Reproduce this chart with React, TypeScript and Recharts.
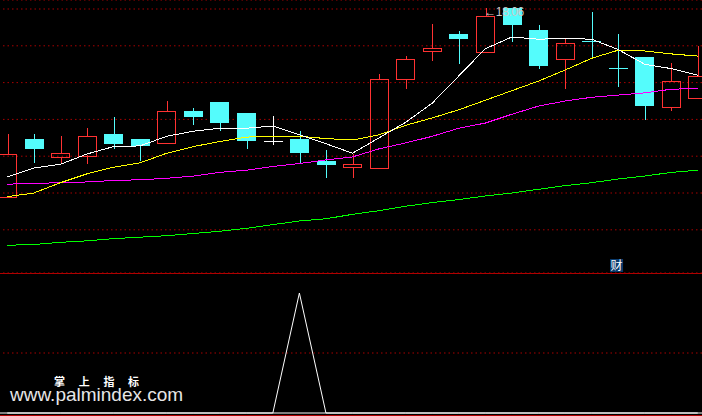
import { Bar, CartesianGrid, ComposedChart, Line, ReferenceDot, ReferenceLine, XAxis, YAxis } from 'recharts';

// daily candles, oldest first
const OPEN = [15.49, 16.27, 16.02, 16.05, 16.34, 16.27, 16.21, 16.65, 16.78, 16.63, 16.25, 16.27, 15.98, 15.89, 15.88, 17.09, 17.47, 17.7, 17.46, 18.05, 17.76, 17.36, 17.6, 17.24, 17.39, 16.7, 16.83];
const HIGH = [16.34, 16.34, 16.32, 16.42, 16.57, 16.27, 16.79, 16.7, 16.78, 16.63, 16.59, 16.38, 16.12, 16.07, 17.16, 17.4, 17.84, 17.74, 18.06, 18.05, 17.82, 17.63, 18.0, 17.7, 17.39, 17.31, 17.54];
const LOW = [15.49, 15.95, 15.93, 15.93, 16.14, 15.97, 16.21, 16.46, 16.38, 16.14, 16.19, 15.95, 15.74, 15.74, 15.88, 16.95, 17.33, 17.29, 17.44, 17.59, 17.23, 16.95, 17.37, 16.98, 16.53, 16.65, 16.83];
const CLOSE = [16.07, 16.14, 16.08, 16.32, 16.21, 16.18, 16.65, 16.57, 16.5, 16.25, 16.25, 16.08, 15.93, 15.93, 17.09, 17.36, 17.51, 17.63, 17.95, 17.82, 17.27, 17.58, 17.59, 17.23, 16.72, 17.06, 17.13];

const MA_WHITE = [15.76, 15.88, 15.93, 16.07, 16.17, 16.18, 16.31, 16.38, 16.42, 16.42, 16.45, 16.33, 16.21, 16.08, 16.29, 16.5, 16.76, 17.13, 17.5, 17.66, 17.63, 17.64, 17.63, 17.49, 17.29, 17.23, 17.14];
const MA_YELLOW = [15.49, 15.54, 15.68, 15.8, 15.89, 15.95, 16.08, 16.17, 16.24, 16.3, 16.31, 16.31, 16.28, 16.26, 16.33, 16.46, 16.56, 16.67, 16.8, 16.93, 17.06, 17.21, 17.37, 17.48, 17.47, 17.43, 17.4];
const MA_MAGENTA = [15.66, 15.67, 15.68, 15.69, 15.71, 15.72, 15.74, 15.77, 15.82, 15.85, 15.9, 15.94, 15.99, 16.03, 16.14, 16.22, 16.31, 16.42, 16.49, 16.61, 16.72, 16.79, 16.84, 16.87, 16.9, 16.95, 16.96];
const MA_GREEN = [14.83, 14.84, 14.87, 14.89, 14.92, 14.94, 14.96, 14.99, 15.02, 15.06, 15.11, 15.16, 15.19, 15.25, 15.3, 15.36, 15.41, 15.45, 15.5, 15.54, 15.59, 15.64, 15.68, 15.73, 15.77, 15.82, 15.85];

// lower panel signal
const SIGNAL = [0, 0, 0, 0, 0, 0, 0, 0, 0, 0, 0, 100, 0, 0, 0, 0, 0, 0, 0, 0, 0, 0, 0, 0, 0, 0, 0];

const PRICE_LEVELS = [15.04, 15.54, 16.04, 16.54, 17.04, 17.54, 18.04];
const SIGNAL_LEVELS = [50];
const HIGH_MARK = { idx: 18, value: 18.06 };
const CAI_MARK = { idx: 23, value: 14.562 };

const UP = '#ff3232';
const DOWN = '#54fcfc';
const FLAT = '#ffffff';
const GRID = '#a80000';

const data = OPEN.map((open, i) => ({
  idx: i,
  open,
  high: HIGH[i],
  low: LOW[i],
  close: CLOSE[i],
  w: MA_WHITE[i],
  y: MA_YELLOW[i],
  m: MA_MAGENTA[i],
  g: MA_GREEN[i],
  sig: SIGNAL[i],
}));

function Candle(props: any) {
  const { x, y, width, height, payload } = props;
  const { open, close, high, low } = payload;
  const top0 = Math.min(y, y + height);
  const h = Math.abs(height);
  const ratio = high > low ? h / (high - low) : 0;
  const py = (v: number) => top0 + (high - v) * ratio;
  const cx = Math.round(x + width / 2) + 0.5;
  const bTop = py(Math.max(open, close));
  const bBot = py(Math.min(open, close));
  const left = Math.round(x);
  const w = Math.round(width);

  if (close > open) {
    return (
      <g shapeRendering="crispEdges">
        <line x1={cx} x2={cx} y1={top0} y2={bTop} stroke={UP} />
        <line x1={cx} x2={cx} y1={bBot} y2={top0 + h} stroke={UP} />
        <rect x={left + 0.5} y={Math.round(bTop) + 0.5} width={w - 1} height={Math.max(Math.round(bBot - bTop), 1)} fill="none" stroke={UP} />
      </g>
    );
  }
  const color = close < open ? DOWN : FLAT;
  return (
    <g shapeRendering="crispEdges">
      <line x1={cx} x2={cx} y1={top0} y2={top0 + h} stroke={color} />
      {close < open ? (
        <rect x={left} y={Math.round(bTop)} width={w} height={Math.max(Math.round(bBot - bTop), 1)} fill={color} />
      ) : (
        <line x1={left} x2={left + w} y1={Math.round(bTop) + 0.5} y2={Math.round(bTop) + 0.5} stroke={color} />
      )}
    </g>
  );
}

const lineProps = { dot: false, activeDot: false, strokeWidth: 1, isAnimationActive: false, shapeRendering: 'crispEdges' } as const;

export default function App() {
  return (
    <div style={{ position: 'fixed', left: 0, top: 0, width: 702, height: 416, background: '#000', overflow: 'hidden' }}>
      <div style={{ position: 'absolute', left: -6, top: 0 }}>
        <ComposedChart width={717} height={273} data={data} margin={{ top: 0, right: 0, bottom: 0, left: 0 }}>
          <XAxis dataKey="idx" hide scale="band" />
          <YAxis hide domain={[14.4531, 18.1623]} ticks={PRICE_LEVELS} allowDataOverflow />
          <CartesianGrid vertical={false} stroke={GRID} strokeDasharray="1.5 3" />
          <Line dataKey="g" stroke="#00ff00" {...lineProps} />
          <Line dataKey="m" stroke="#ff00ff" {...lineProps} />
          <Line dataKey="y" stroke="#ffff00" {...lineProps} />
          <Line dataKey="w" stroke="#ffffff" {...lineProps} />
          <Bar dataKey={(d: any) => [d.low, d.high]} barSize={19} shape={Candle} activeBar={false} isAnimationActive={false} />
          <ReferenceDot
            x={HIGH_MARK.idx}
            y={HIGH_MARK.value}
            r={0}
            label={({ viewBox }: any) => (
              <text x={viewBox.x - 1} y={viewBox.y + 8} fill="#c8c8c8" fontSize={12} fontFamily="Liberation Sans, Arial" letterSpacing={-0.4}>
                {`←${HIGH_MARK.value.toFixed(2)}`}
              </text>
            )}
          />
          <ReferenceDot
            x={CAI_MARK.idx}
            y={CAI_MARK.value}
            r={0}
            label={({ viewBox }: any) => (
              <g>
                <rect x={viewBox.x - 8} y={viewBox.y - 6} width={13} height={13} fill="#0a3a6c" />
                <text x={viewBox.x - 1.5} y={viewBox.y + 5} fill="#ffffff" fontSize={12} textAnchor="middle" fontFamily="Noto Sans CJK SC">
                  财
                </text>
              </g>
            )}
          />
        </ComposedChart>
      </div>
      <div style={{ position: 'absolute', left: 0, top: 273, width: 702, height: 1, background: '#b00000' }} />
      <div style={{ position: 'absolute', left: -6, top: 273 }}>
        <ComposedChart width={717} height={143} data={data} margin={{ top: 0, right: 0, bottom: 0, left: 0 }}>
          <XAxis dataKey="idx" hide scale="band" />
          <YAxis hide domain={[-2.5, 116.67]} ticks={SIGNAL_LEVELS} allowDataOverflow />
          <CartesianGrid vertical={false} stroke={GRID} strokeDasharray="1.5 3" />
          <ReferenceLine y={0} stroke="#ffffff" />
          <Line dataKey="sig" stroke="#ffffff" dot={false} activeDot={false} strokeWidth={1} isAnimationActive={false} />
        </ComposedChart>
      </div>
      <div style={{ position: 'absolute', left: 0, top: 415, width: 702, height: 1, background: '#b00000' }} />
      <div
        style={{
          position: 'absolute',
          left: 54,
          top: 376,
          fontSize: 11,
          lineHeight: '10px',
          fontWeight: 'bold',
          color: '#fff',
          letterSpacing: 5.6,
          fontFamily: 'Noto Sans CJK SC',
          whiteSpace: 'nowrap',
        }}
      >
        掌 上 指 标
      </div>
      <div
        style={{
          position: 'absolute',
          left: 10,
          top: 387,
          fontSize: 19,
          lineHeight: '15px',
          color: '#e6e6e6',
          fontFamily: 'Liberation Sans, Arial',
          whiteSpace: 'nowrap',
        }}
      >
        www.palmindex.com
      </div>
    </div>
  );
}
